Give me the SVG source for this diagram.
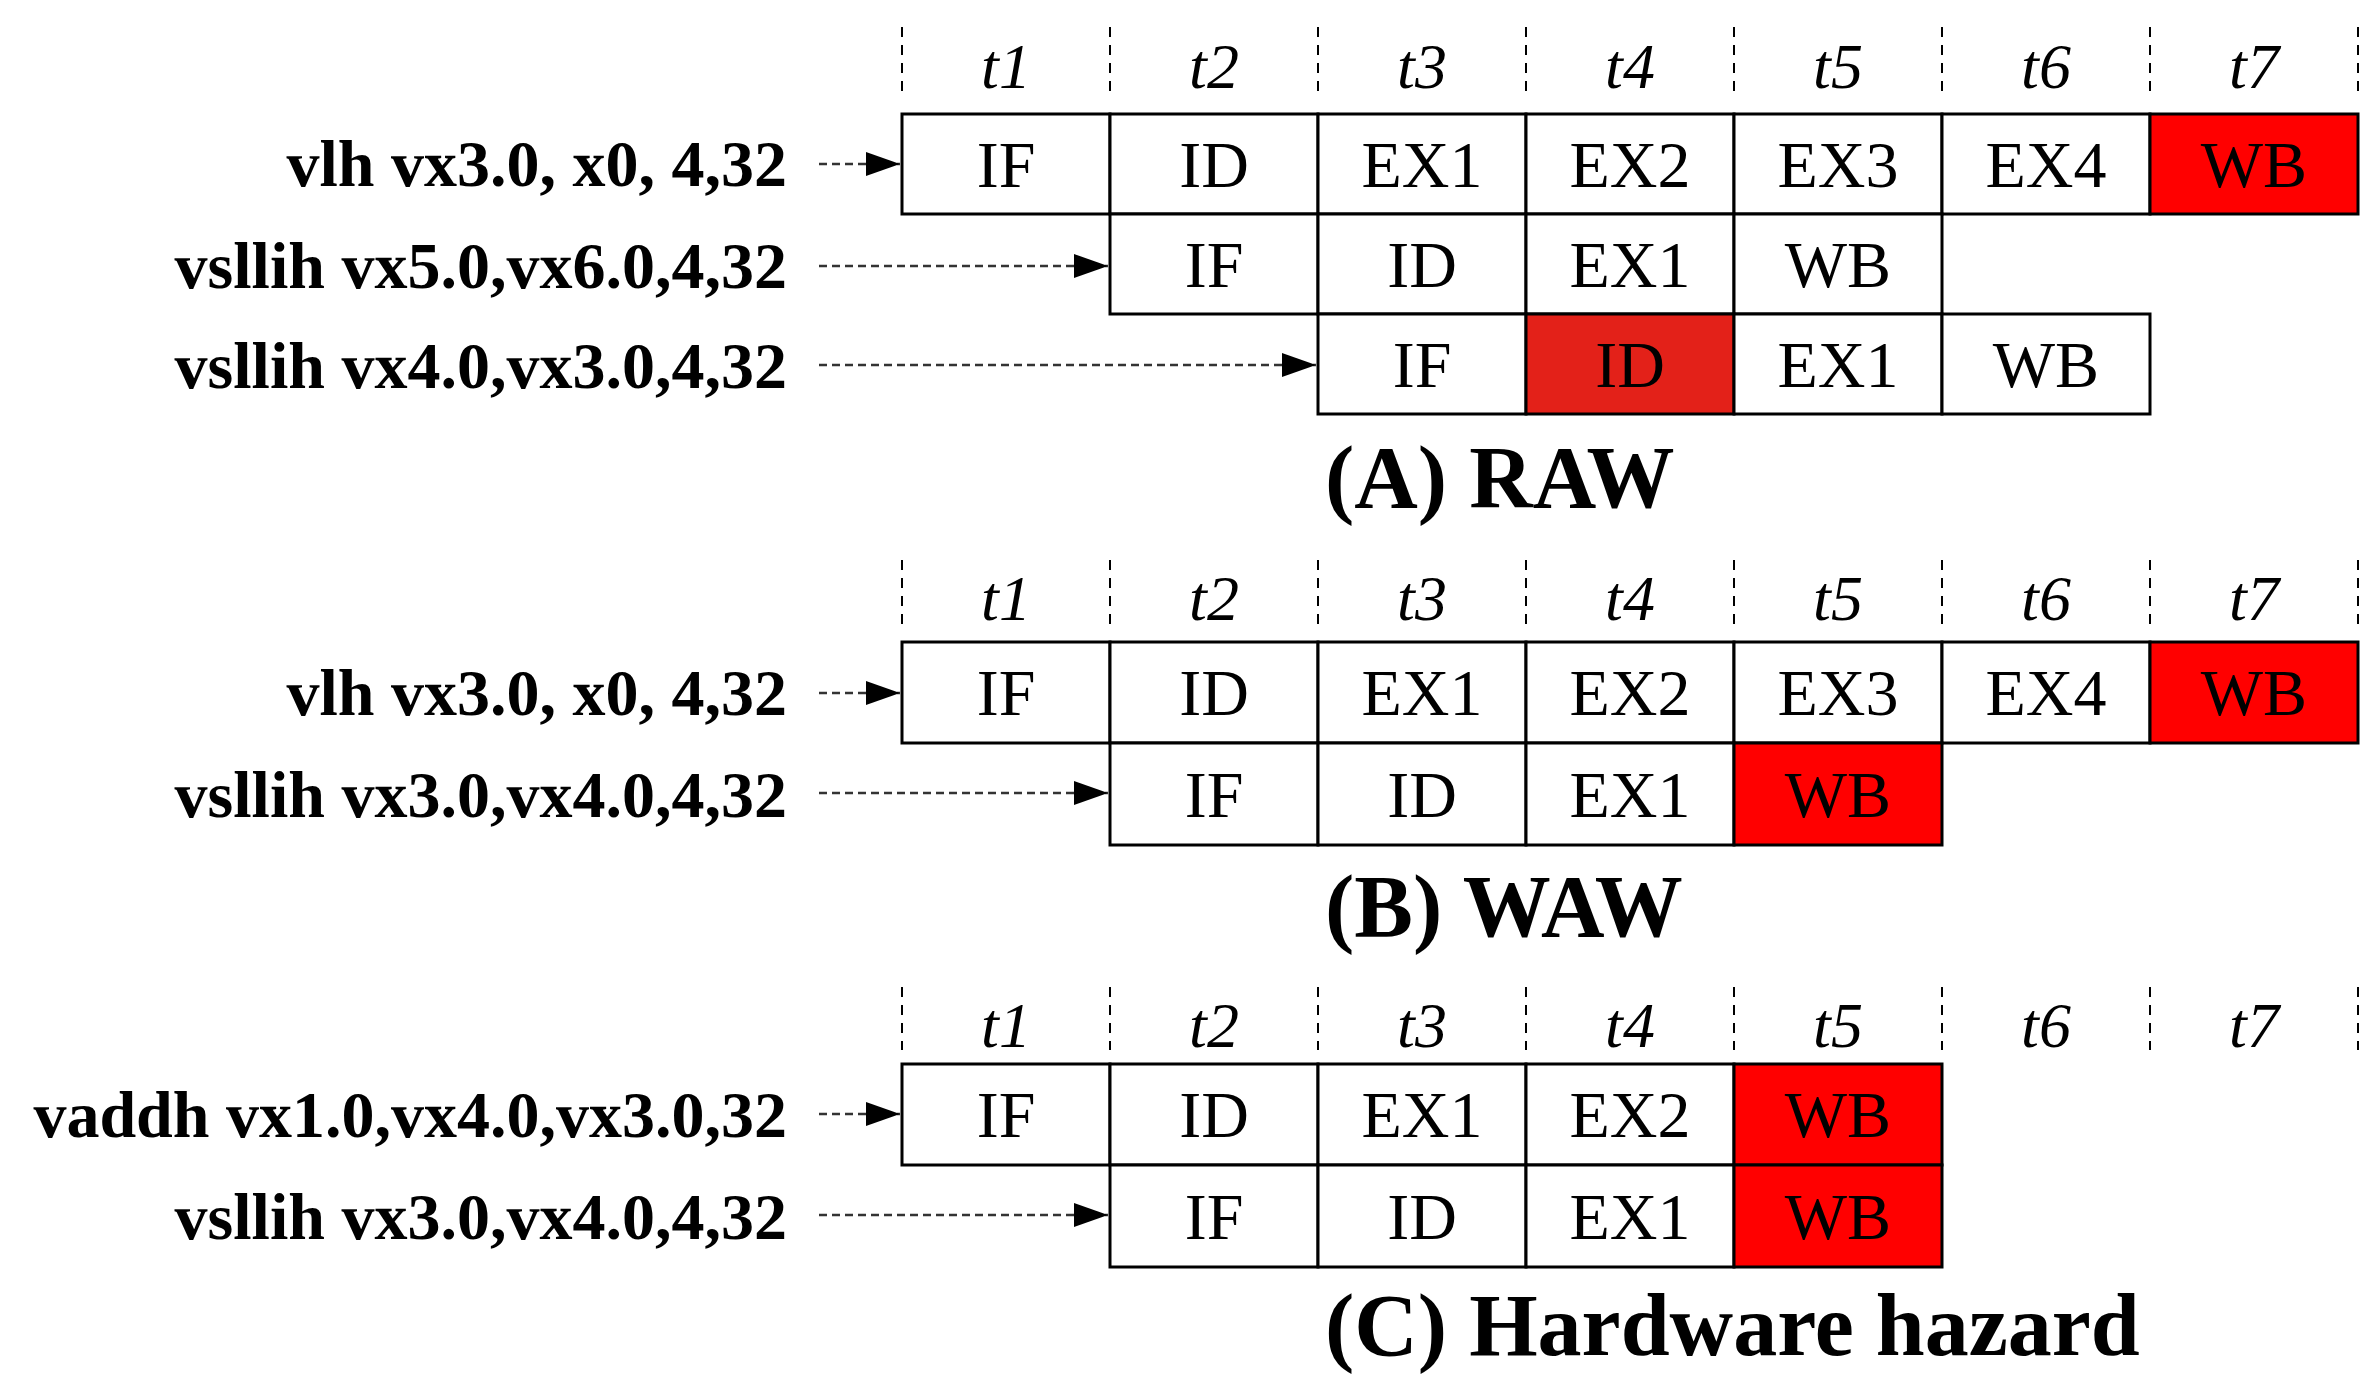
<svg xmlns="http://www.w3.org/2000/svg" width="2375" height="1375" viewBox="0 0 2375 1375">
<style>
.c{fill:#fff;stroke:#000;stroke-width:3}
.r{fill:#ff0000;stroke:#000;stroke-width:3}
.r2{fill:#e32119;stroke:#000;stroke-width:3}
.ct{font-family:"Liberation Serif",serif;font-size:66px;text-anchor:middle}
.lb{font-family:"Liberation Serif",serif;font-size:66px;font-weight:bold;text-anchor:end}
.t{font-family:"Liberation Serif",serif;font-size:64px;font-style:italic;text-anchor:middle}
.ti{font-family:"Liberation Serif",serif;font-size:88px;font-weight:bold}
.dv{stroke:#000;stroke-width:2;stroke-dasharray:10,8}
.ar{stroke:#333;stroke-width:2.5;stroke-dasharray:8,5;fill:none}
</style>
<defs>
<marker id="a" markerWidth="10" markerHeight="10" refX="10" refY="5" orient="auto" markerUnits="userSpaceOnUse" viewBox="0 0 10 10">
<path d="M0,0 L10,5 L0,10 z" fill="#000"/>
</marker>
<marker id="ah" viewBox="0 0 10 10" refX="10" refY="5" markerWidth="34" markerHeight="34" markerUnits="userSpaceOnUse" orient="auto"><path d="M0,1.5 L10,5 L0,8.5 z" fill="#000"/></marker>
</defs>
<rect width="2375" height="1375" fill="#fff"/>

<!-- time headers -->
<g id="hdrA">
<g class="dv"><line x1="902" y1="27" x2="902" y2="94"/><line x1="1110" y1="27" x2="1110" y2="94"/><line x1="1318" y1="27" x2="1318" y2="94"/><line x1="1526" y1="27" x2="1526" y2="94"/><line x1="1734" y1="27" x2="1734" y2="94"/><line x1="1942" y1="27" x2="1942" y2="94"/><line x1="2150" y1="27" x2="2150" y2="94"/><line x1="2358" y1="27" x2="2358" y2="94"/></g>
<text class="t" x="1006" y="88">t1</text><text class="t" x="1214" y="88">t2</text><text class="t" x="1422" y="88">t3</text><text class="t" x="1630" y="88">t4</text><text class="t" x="1838" y="88">t5</text><text class="t" x="2046" y="88">t6</text><text class="t" x="2254" y="88">t7</text>
</g>
<g id="hdrB">
<g class="dv"><line x1="902" y1="560" x2="902" y2="626"/><line x1="1110" y1="560" x2="1110" y2="626"/><line x1="1318" y1="560" x2="1318" y2="626"/><line x1="1526" y1="560" x2="1526" y2="626"/><line x1="1734" y1="560" x2="1734" y2="626"/><line x1="1942" y1="560" x2="1942" y2="626"/><line x1="2150" y1="560" x2="2150" y2="626"/><line x1="2358" y1="560" x2="2358" y2="626"/></g>
<text class="t" x="1006" y="620">t1</text><text class="t" x="1214" y="620">t2</text><text class="t" x="1422" y="620">t3</text><text class="t" x="1630" y="620">t4</text><text class="t" x="1838" y="620">t5</text><text class="t" x="2046" y="620">t6</text><text class="t" x="2254" y="620">t7</text>
</g>
<g id="hdrC">
<g class="dv"><line x1="902" y1="987" x2="902" y2="1050"/><line x1="1110" y1="987" x2="1110" y2="1050"/><line x1="1318" y1="987" x2="1318" y2="1050"/><line x1="1526" y1="987" x2="1526" y2="1050"/><line x1="1734" y1="987" x2="1734" y2="1050"/><line x1="1942" y1="987" x2="1942" y2="1050"/><line x1="2150" y1="987" x2="2150" y2="1050"/><line x1="2358" y1="987" x2="2358" y2="1050"/></g>
<text class="t" x="1006" y="1047">t1</text><text class="t" x="1214" y="1047">t2</text><text class="t" x="1422" y="1047">t3</text><text class="t" x="1630" y="1047">t4</text><text class="t" x="1838" y="1047">t5</text><text class="t" x="2046" y="1047">t6</text><text class="t" x="2254" y="1047">t7</text>
</g>

<!-- Section A -->
<g id="A1">
<text class="lb" x="787" y="186">vlh vx3.0, x0, 4,32</text>
<rect class="c" x="902" y="114" width="208" height="100"/><text class="ct" x="1006" y="187">IF</text>
<rect class="c" x="1110" y="114" width="208" height="100"/><text class="ct" x="1214" y="187">ID</text>
<rect class="c" x="1318" y="114" width="208" height="100"/><text class="ct" x="1422" y="187">EX1</text>
<rect class="c" x="1526" y="114" width="208" height="100"/><text class="ct" x="1630" y="187">EX2</text>
<rect class="c" x="1734" y="114" width="208" height="100"/><text class="ct" x="1838" y="187">EX3</text>
<rect class="c" x="1942" y="114" width="208" height="100"/><text class="ct" x="2046" y="187">EX4</text>
<rect class="r" x="2150" y="114" width="208" height="100"/><text class="ct" x="2254" y="187">WB</text>
</g>
<g id="A2">
<text class="lb" x="787" y="288">vsllih  vx5.0,vx6.0,4,32</text>
<rect class="c" x="1110" y="214" width="208" height="100"/><text class="ct" x="1214" y="287">IF</text>
<rect class="c" x="1318" y="214" width="208" height="100"/><text class="ct" x="1422" y="287">ID</text>
<rect class="c" x="1526" y="214" width="208" height="100"/><text class="ct" x="1630" y="287">EX1</text>
<rect class="c" x="1734" y="214" width="208" height="100"/><text class="ct" x="1838" y="287">WB</text>
</g>
<g id="A3">
<text class="lb" x="787" y="388">vsllih  vx4.0,vx3.0,4,32</text>
<rect class="c" x="1318" y="314" width="208" height="100"/><text class="ct" x="1422" y="387">IF</text>
<rect class="r2" x="1526" y="314" width="208" height="100"/><text class="ct" x="1630" y="387">ID</text>
<rect class="c" x="1734" y="314" width="208" height="100"/><text class="ct" x="1838" y="387">EX1</text>
<rect class="c" x="1942" y="314" width="208" height="100"/><text class="ct" x="2046" y="387">WB</text>
</g>
<text class="ti" x="1325" y="507">(A) RAW</text>

<!-- Section B -->
<g id="B1">
<text class="lb" x="787" y="715">vlh vx3.0, x0, 4,32</text>
<rect class="c" x="902" y="642" width="208" height="101"/><text class="ct" x="1006" y="715">IF</text>
<rect class="c" x="1110" y="642" width="208" height="101"/><text class="ct" x="1214" y="715">ID</text>
<rect class="c" x="1318" y="642" width="208" height="101"/><text class="ct" x="1422" y="715">EX1</text>
<rect class="c" x="1526" y="642" width="208" height="101"/><text class="ct" x="1630" y="715">EX2</text>
<rect class="c" x="1734" y="642" width="208" height="101"/><text class="ct" x="1838" y="715">EX3</text>
<rect class="c" x="1942" y="642" width="208" height="101"/><text class="ct" x="2046" y="715">EX4</text>
<rect class="r" x="2150" y="642" width="208" height="101"/><text class="ct" x="2254" y="715">WB</text>
</g>
<g id="B2">
<text class="lb" x="787" y="817">vsllih  vx3.0,vx4.0,4,32</text>
<rect class="c" x="1110" y="743" width="208" height="102"/><text class="ct" x="1214" y="817">IF</text>
<rect class="c" x="1318" y="743" width="208" height="102"/><text class="ct" x="1422" y="817">ID</text>
<rect class="c" x="1526" y="743" width="208" height="102"/><text class="ct" x="1630" y="817">EX1</text>
<rect class="r" x="1734" y="743" width="208" height="102"/><text class="ct" x="1838" y="817">WB</text>
</g>
<text class="ti" x="1325" y="936">(B) WAW</text>

<!-- Section C -->
<g id="C1">
<text class="lb" x="787" y="1137">vaddh vx1.0,vx4.0,vx3.0,32</text>
<rect class="c" x="902" y="1064" width="208" height="101"/><text class="ct" x="1006" y="1137">IF</text>
<rect class="c" x="1110" y="1064" width="208" height="101"/><text class="ct" x="1214" y="1137">ID</text>
<rect class="c" x="1318" y="1064" width="208" height="101"/><text class="ct" x="1422" y="1137">EX1</text>
<rect class="c" x="1526" y="1064" width="208" height="101"/><text class="ct" x="1630" y="1137">EX2</text>
<rect class="r" x="1734" y="1064" width="208" height="101"/><text class="ct" x="1838" y="1137">WB</text>
</g>
<g id="C2">
<text class="lb" x="787" y="1239">vsllih  vx3.0,vx4.0,4,32</text>
<rect class="c" x="1110" y="1165" width="208" height="102"/><text class="ct" x="1214" y="1239">IF</text>
<rect class="c" x="1318" y="1165" width="208" height="102"/><text class="ct" x="1422" y="1239">ID</text>
<rect class="c" x="1526" y="1165" width="208" height="102"/><text class="ct" x="1630" y="1239">EX1</text>
<rect class="r" x="1734" y="1165" width="208" height="102"/><text class="ct" x="1838" y="1239">WB</text>
</g>
<text class="ti" x="1325" y="1355">(C) Hardware hazard</text>

<g id="connectors" class="ar">
<line x1="819" y1="164" x2="900" y2="164" marker-end="url(#ah)"/>
<line x1="819" y1="266" x2="1108" y2="266" marker-end="url(#ah)"/>
<line x1="819" y1="365" x2="1316" y2="365" marker-end="url(#ah)"/>
<line x1="819" y1="693" x2="900" y2="693" marker-end="url(#ah)"/>
<line x1="819" y1="793" x2="1108" y2="793" marker-end="url(#ah)"/>
<line x1="819" y1="1114" x2="900" y2="1114" marker-end="url(#ah)"/>
<line x1="819" y1="1215" x2="1108" y2="1215" marker-end="url(#ah)"/>
</g>
</svg>
